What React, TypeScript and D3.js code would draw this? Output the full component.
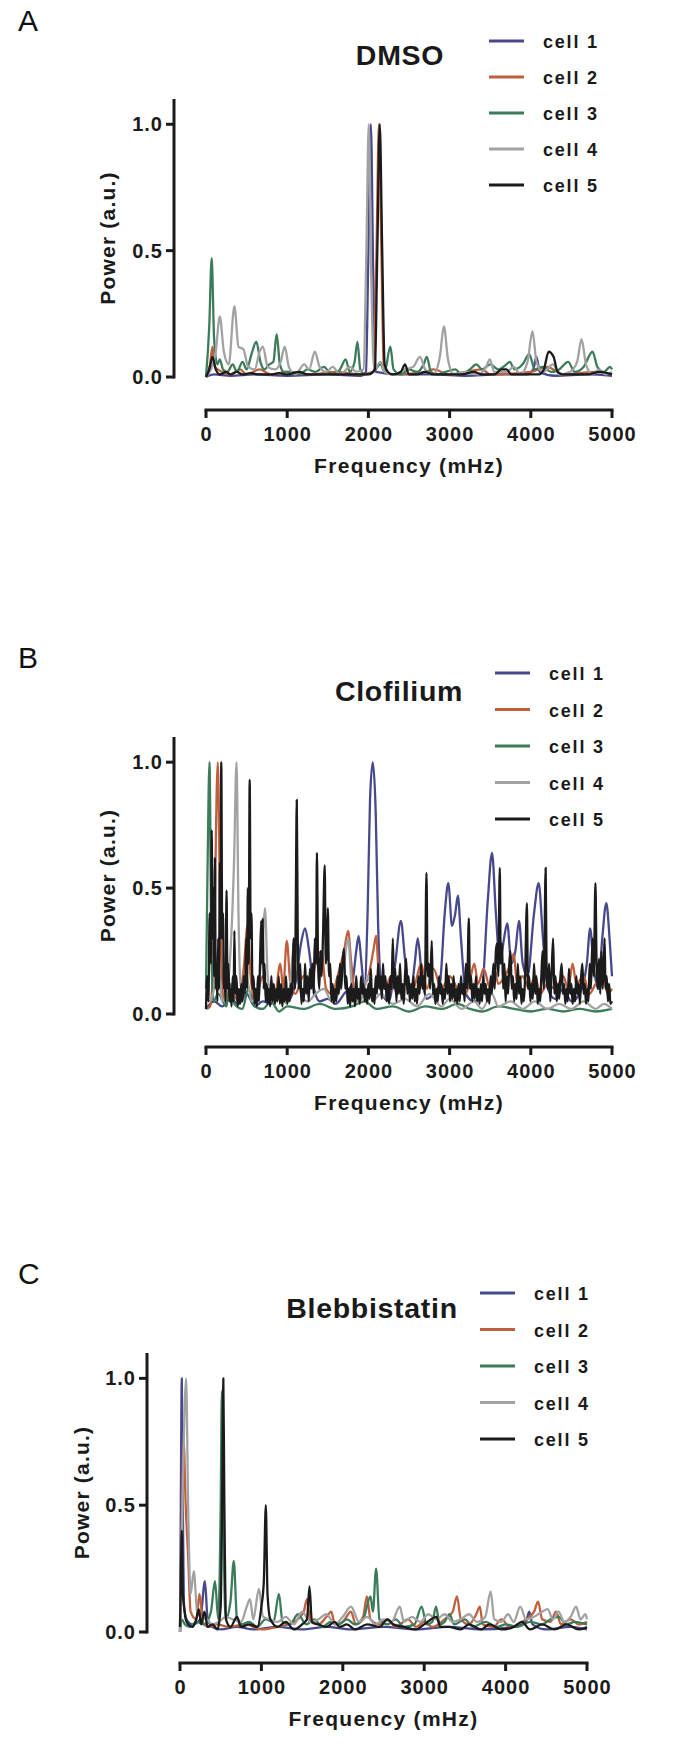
import React from "react";
import * as d3 from "d3";

type Pt = [number, number];

const xTicks = [0, 1000, 2000, 3000, 4000, 5000];
const yTicks = [0, 0.5, 1.0];
const cellNames = ["cell 1", "cell 2", "cell 3", "cell 4", "cell 5"];
const cellColors = ["#48488c", "#bf5f3d", "#3c7c5a", "#a2a2a2", "#1b1b1b"];
const panelLabels = ["A", "B", "C"];
const panelTitles = ["DMSO", "Clofilium", "Blebbistatin"];

// ---------- Panel A: DMSO ----------
const dmsoCell1: Pt[] = [[0,0],[100,0.01],[300,0.005],[600,0.01],[1000,0.005],[1500,0.01],[1900,0.005],[1970,0.02],[2000,0.5],[2030,1.0],[2060,0.4],[2090,0.02],[2400,0.01],[2800,0.01],[3200,0.005],[3600,0.01],[3950,0.01],[4030,0.03],[4070,0.08],[4110,0.02],[4300,0.005],[4700,0.01],[5000,0.005]];
const dmsoCell2: Pt[] = [[0,0],[50,0.05],[80,0.12],[110,0.04],[200,0.02],[300,0.01],[420,0.03],[500,0.01],[660,0.03],[800,0.01],[1000,0.02],[1300,0.01],[1600,0.02],[1900,0.01],[2060,0.02],[2100,0.5],[2130,1.0],[2160,0.5],[2190,0.03],[2300,0.01],[2700,0.02],[2800,0.03],[3000,0.01],[3400,0.03],[3500,0.01],[4000,0.02],[4200,0.04],[4400,0.01],[4800,0.02],[5000,0.01]];
const dmsoCell3: Pt[] = [[0,0],[40,0.2],[70,0.47],[100,0.15],[140,0.05],[170,0.07],[210,0.03],[260,0.02],[330,0.05],[380,0.02],[450,0.06],[500,0.03],[560,0.09],[620,0.14],[670,0.06],[720,0.03],[780,0.05],[830,0.06],[870,0.17],[910,0.05],[960,0.02],[1050,0.02],[1150,0.01],[1250,0.03],[1350,0.02],[1450,0.04],[1550,0.01],[1650,0.03],[1720,0.07],[1770,0.02],[1830,0.06],[1865,0.14],[1900,0.03],[1960,0.01],[2060,0.02],[2150,0.05],[2200,0.02],[2270,0.12],[2310,0.03],[2400,0.01],[2500,0.03],[2600,0.02],[2680,0.05],[2720,0.08],[2770,0.02],[2850,0.01],[2950,0.02],[3070,0.03],[3150,0.01],[3250,0.03],[3330,0.05],[3400,0.03],[3500,0.05],[3600,0.03],[3700,0.05],[3740,0.06],[3800,0.03],[3900,0.05],[3980,0.09],[4050,0.03],[4150,0.04],[4250,0.02],[4350,0.03],[4460,0.06],[4540,0.02],[4650,0.04],[4760,0.1],[4820,0.04],[4900,0.02],[4975,0.04],[5000,0.03]];
const dmsoCell4: Pt[] = [[0,0],[60,0.03],[120,0.1],[170,0.24],[220,0.1],[280,0.05],[350,0.28],[400,0.12],[460,0.11],[520,0.04],[600,0.03],[660,0.1],[700,0.12],[760,0.04],[850,0.03],[920,0.06],[970,0.12],[1020,0.04],[1100,0.01],[1210,0.05],[1270,0.03],[1340,0.1],[1400,0.04],[1480,0.02],[1560,0.04],[1650,0.01],[1775,0.04],[1850,0.02],[1940,0.03],[1975,0.5],[2005,1.0],[2035,0.4],[2070,0.03],[2150,0.06],[2200,0.02],[2300,0.01],[2450,0.03],[2550,0.04],[2635,0.08],[2700,0.03],[2800,0.01],[2880,0.08],[2930,0.2],[2980,0.07],[3050,0.01],[3200,0.02],[3350,0.01],[3450,0.04],[3495,0.07],[3550,0.02],[3700,0.02],[3790,0.04],[3870,0.01],[3960,0.06],[4020,0.18],[4070,0.06],[4150,0.02],[4275,0.05],[4350,0.01],[4480,0.02],[4570,0.06],[4625,0.15],[4680,0.05],[4760,0.01],[4840,0.03],[4920,0.01],[5000,0.02]];
const dmsoCell5: Pt[] = [[0,0],[40,0.03],[80,0.08],[120,0.03],[170,0.01],[250,0.02],[300,0.01],[380,0.02],[450,0.01],[550,0.015],[650,0.01],[800,0.01],[900,0.015],[1000,0.01],[1150,0.02],[1250,0.01],[1400,0.01],[1550,0.01],[1700,0.01],[1850,0.01],[2000,0.01],[2080,0.03],[2110,0.5],[2140,1.0],[2170,0.5],[2200,0.05],[2240,0.02],[2300,0.01],[2400,0.02],[2450,0.05],[2500,0.01],[2600,0.01],[2700,0.02],[2800,0.01],[2900,0.01],[3000,0.01],[3150,0.01],[3300,0.02],[3400,0.01],[3550,0.01],[3640,0.03],[3700,0.03],[3760,0.01],[3900,0.01],[4000,0.01],[4100,0.01],[4160,0.03],[4220,0.1],[4280,0.08],[4330,0.02],[4400,0.01],[4550,0.01],[4700,0.01],[4850,0.02],[5000,0.01]];

// ---------- Panel B: Clofilium ----------
const clofCell1: Pt[] = [[0,0.02],[100,0.05],[200,0.03],[300,0.06],[400,0.04],[500,0.08],[600,0.03],[700,0.05],[800,0.04],[900,0.08],[1000,0.05],[1100,0.12],[1170,0.28],[1220,0.34],[1270,0.25],[1330,0.1],[1400,0.05],[1500,0.06],[1600,0.04],[1700,0.08],[1800,0.12],[1850,0.25],[1880,0.31],[1910,0.22],[1950,0.1],[1990,0.4],[2020,0.85],[2054,1.0],[2090,0.8],[2120,0.35],[2170,0.08],[2250,0.05],[2330,0.2],[2400,0.37],[2450,0.22],[2520,0.08],[2570,0.2],[2608,0.3],[2650,0.18],[2720,0.06],[2800,0.08],[2880,0.12],[2940,0.4],[2984,0.52],[3030,0.35],[3070,0.4],[3102,0.47],[3140,0.3],[3200,0.08],[3300,0.05],[3400,0.1],[3470,0.45],[3522,0.64],[3570,0.4],[3620,0.2],[3670,0.3],[3710,0.36],[3760,0.2],[3810,0.25],[3855,0.37],[3900,0.2],[3960,0.15],[4040,0.4],[4097,0.52],[4150,0.3],[4210,0.1],[4300,0.06],[4400,0.1],[4500,0.05],[4600,0.08],[4690,0.2],[4731,0.34],[4770,0.2],[4830,0.1],[4880,0.3],[4930,0.44],[4970,0.3],[5000,0.15]];
const clofCell2: Pt[] = [[0,0.02],[50,0.03],[100,0.3],[145,1.0],[175,0.4],[220,0.05],[300,0.1],[400,0.05],[470,0.2],[510,0.35],[550,0.15],[600,0.05],[700,0.15],[760,0.08],[840,0.05],[915,0.2],[950,0.1],[995,0.29],[1040,0.12],[1100,0.08],[1200,0.15],[1280,0.1],[1350,0.2],[1420,0.25],[1480,0.1],[1550,0.08],[1620,0.15],[1700,0.25],[1750,0.33],[1790,0.2],[1850,0.05],[1920,0.1],[2000,0.15],[2060,0.25],[2095,0.31],[2130,0.15],[2200,0.1],[2280,0.15],[2350,0.08],[2450,0.12],[2550,0.1],[2650,0.2],[2720,0.1],[2800,0.18],[2900,0.1],[3000,0.15],[3100,0.1],[3200,0.08],[3260,0.15],[3305,0.2],[3350,0.12],[3420,0.18],[3500,0.1],[3550,0.18],[3600,0.12],[3680,0.15],[3750,0.2],[3790,0.24],[3830,0.12],[3900,0.15],[3980,0.1],[4050,0.15],[4120,0.08],[4200,0.12],[4300,0.1],[4400,0.15],[4460,0.1],[4515,0.2],[4560,0.12],[4650,0.15],[4720,0.08],[4800,0.12],[4880,0.15],[4950,0.08],[5000,0.1]];
const clofCell3: Pt[] = [[0,0.1],[20,0.6],[43,1.0],[65,0.3],[90,0.05],[150,0.08],[250,0.03],[300,0.12],[350,0.04],[450,0.02],[520,0.1],[600,0.03],[700,0.02],[800,0.05],[900,0.01],[1000,0.03],[1200,0.02],[1400,0.04],[1600,0.02],[1800,0.03],[1950,0.05],[2100,0.02],[2300,0.03],[2500,0.01],[2700,0.03],[2900,0.02],[3100,0.04],[3250,0.02],[3400,0.01],[3600,0.03],[3800,0.02],[4000,0.01],[4200,0.02],[4400,0.01],[4600,0.02],[4800,0.01],[5000,0.02]];
const clofCell4: Pt[] = [[0,0.08],[40,0.05],[100,0.1],[150,0.2],[200,0.05],[260,0.1],[310,0.3],[345,0.6],[376,1.0],[400,0.4],[430,0.1],[500,0.15],[560,0.05],[640,0.1],[700,0.3],[726,0.42],[760,0.15],[820,0.05],[900,0.08],[1000,0.04],[1100,0.3],[1150,0.1],[1250,0.05],[1350,0.08],[1450,0.1],[1550,0.05],[1650,0.1],[1700,0.2],[1750,0.3],[1800,0.1],[1900,0.05],[2000,0.15],[2050,0.05],[2150,0.08],[2300,0.04],[2450,0.06],[2600,0.03],[2750,0.08],[2900,0.03],[3000,0.06],[3150,0.02],[3300,0.05],[3400,0.02],[3520,0.08],[3600,0.03],[3750,0.05],[3900,0.02],[4050,0.05],[4200,0.02],[4350,0.04],[4500,0.02],[4650,0.05],[4800,0.02],[4900,0.04],[5000,0.02]];
const clofCell5: Pt[] = [[0,0.02],[15,0.15],[30,0.05],[45,0.4],[60,0.2],[70,0.73],[80,0.3],[90,0.5],[100,0.15],[110,0.62],[120,0.1],[130,0.2],[140,0.05],[150,0.3],[160,0.1],[170,0.6],[180,0.3],[188,1.0],[200,0.3],[210,0.4],[220,0.1],[230,0.15],[240,0.05],[253,0.49],[265,0.1],[275,0.2],[290,0.05],[300,0.1],[315,0.03],[330,0.15],[340,0.05],[350,0.33],[360,0.08],[375,0.15],[390,0.03],[405,0.1],[420,0.04],[435,0.12],[450,0.05],[465,0.15],[480,0.08],[495,0.3],[505,0.1],[515,0.5],[525,0.2],[538,0.93],[550,0.3],[560,0.4],[572,0.1],[585,0.15],[600,0.04],[612,0.1],[625,0.03],[640,0.15],[652,0.05],[665,0.2],[680,0.37],[690,0.2],[700,0.38],[710,0.1],[722,0.2],[735,0.05],[748,0.12],[760,0.04],[775,0.1],[790,0.03],[805,0.15],[820,0.05],[835,0.12],[850,0.04],[865,0.1],[880,0.05],[895,0.15],[910,0.04],[925,0.12],[940,0.03],[955,0.1],[970,0.05],[985,0.15],[1000,0.04],[1015,0.1],[1030,0.05],[1045,0.12],[1060,0.08],[1080,0.3],[1095,0.1],[1105,0.4],[1118,0.85],[1130,0.3],[1145,0.1],[1160,0.2],[1175,0.04],[1190,0.1],[1205,0.05],[1220,0.2],[1235,0.08],[1250,0.15],[1265,0.05],[1280,0.18],[1295,0.1],[1310,0.2],[1325,0.08],[1340,0.3],[1355,0.2],[1366,0.64],[1380,0.2],[1395,0.1],[1410,0.25],[1425,0.15],[1440,0.3],[1462,0.59],[1475,0.2],[1490,0.25],[1500,0.42],[1515,0.15],[1530,0.2],[1545,0.05],[1560,0.12],[1575,0.04],[1590,0.1],[1605,0.05],[1620,0.15],[1635,0.08],[1650,0.2],[1665,0.1],[1680,0.2],[1700,0.26],[1715,0.1],[1730,0.15],[1745,0.04],[1760,0.1],[1775,0.03],[1790,0.12],[1805,0.05],[1820,0.1],[1835,0.03],[1850,0.15],[1865,0.06],[1880,0.1],[1895,0.04],[1910,0.15],[1925,0.08],[1940,0.12],[1955,0.05],[1970,0.1],[1985,0.04],[2000,0.12],[2015,0.06],[2030,0.18],[2045,0.05],[2060,0.1],[2075,0.04],[2090,0.15],[2105,0.08],[2120,0.2],[2135,0.1],[2150,0.15],[2165,0.06],[2180,0.2],[2195,0.1],[2210,0.15],[2225,0.05],[2240,0.12],[2255,0.04],[2270,0.15],[2285,0.1],[2301,0.3],[2315,0.1],[2330,0.18],[2345,0.05],[2360,0.15],[2375,0.08],[2390,0.2],[2405,0.06],[2420,0.12],[2435,0.04],[2450,0.15],[2465,0.22],[2480,0.08],[2495,0.15],[2510,0.05],[2525,0.12],[2540,0.06],[2555,0.15],[2570,0.05],[2585,0.1],[2600,0.04],[2615,0.15],[2630,0.08],[2650,0.2],[2665,0.1],[2680,0.15],[2695,0.08],[2715,0.56],[2730,0.15],[2745,0.2],[2760,0.1],[2780,0.29],[2795,0.08],[2810,0.12],[2825,0.04],[2840,0.1],[2855,0.05],[2870,0.15],[2885,0.08],[2900,0.12],[2915,0.04],[2930,0.1],[2945,0.06],[2960,0.2],[2975,0.08],[2990,0.15],[3005,0.05],[3020,0.12],[3035,0.06],[3050,0.15],[3065,0.05],[3080,0.1],[3095,0.04],[3110,0.12],[3125,0.05],[3140,0.15],[3155,0.08],[3170,0.12],[3185,0.05],[3200,0.2],[3215,0.1],[3237,0.38],[3250,0.1],[3265,0.15],[3280,0.05],[3295,0.12],[3310,0.06],[3325,0.15],[3340,0.05],[3355,0.1],[3370,0.04],[3385,0.12],[3400,0.05],[3415,0.15],[3430,0.08],[3445,0.12],[3460,0.05],[3475,0.1],[3490,0.04],[3505,0.15],[3520,0.08],[3540,0.2],[3555,0.1],[3570,0.25],[3585,0.28],[3600,0.15],[3618,0.58],[3630,0.2],[3645,0.28],[3660,0.1],[3675,0.2],[3690,0.05],[3705,0.15],[3720,0.08],[3735,0.2],[3750,0.25],[3765,0.1],[3780,0.15],[3795,0.05],[3810,0.12],[3825,0.06],[3840,0.2],[3855,0.08],[3870,0.15],[3885,0.04],[3900,0.1],[3915,0.05],[3930,0.15],[3952,0.44],[3965,0.1],[3980,0.15],[3995,0.05],[4010,0.12],[4025,0.06],[4040,0.2],[4055,0.08],[4070,0.15],[4085,0.04],[4100,0.1],[4115,0.05],[4130,0.15],[4145,0.25],[4160,0.1],[4183,0.58],[4195,0.15],[4210,0.1],[4225,0.2],[4240,0.05],[4255,0.15],[4275,0.3],[4290,0.08],[4305,0.15],[4320,0.05],[4335,0.12],[4350,0.06],[4365,0.15],[4380,0.2],[4395,0.08],[4410,0.12],[4425,0.04],[4440,0.1],[4455,0.05],[4470,0.18],[4485,0.08],[4500,0.12],[4515,0.04],[4530,0.1],[4545,0.05],[4560,0.15],[4575,0.08],[4590,0.12],[4605,0.04],[4620,0.15],[4635,0.2],[4650,0.08],[4665,0.12],[4680,0.04],[4695,0.1],[4710,0.05],[4725,0.2],[4740,0.1],[4760,0.3],[4775,0.15],[4796,0.52],[4810,0.2],[4825,0.1],[4840,0.22],[4855,0.08],[4870,0.25],[4885,0.1],[4900,0.22],[4909,0.3],[4920,0.1],[4935,0.15],[4950,0.05],[4965,0.12],[4980,0.04],[5000,0.05]];

// ---------- Panel C: Blebbistatin ----------
const blebCell1: Pt[] = [[0,0],[10,0.5],[22,1.0],[35,0.5],[50,0.1],[80,0.05],[150,0.03],[250,0.05],[306,0.2],[340,0.05],[400,0.02],[500,0.01],[700,0.02],[900,0.01],[1200,0.02],[1500,0.01],[1800,0.02],[2100,0.01],[2500,0.02],[2900,0.01],[3300,0.02],[3700,0.01],[4100,0.02],[4250,0.04],[4290,0.08],[4330,0.03],[4500,0.01],[4800,0.02],[5000,0.01]];
const blebCell2: Pt[] = [[0,0],[20,0.4],[45,0.75],[70,0.5],[100,0.3],[130,0.08],[200,0.05],[240,0.15],[280,0.04],[350,0.02],[450,0.03],[600,0.02],[800,0.03],[1000,0.01],[1200,0.02],[1400,0.04],[1520,0.08],[1560,0.13],[1600,0.04],[1700,0.03],[1800,0.06],[1860,0.08],[1900,0.03],[2000,0.04],[2100,0.08],[2160,0.03],[2250,0.06],[2296,0.14],[2340,0.05],[2450,0.03],[2550,0.05],[2650,0.02],[2800,0.05],[2900,0.02],[3000,0.04],[3100,0.02],[3250,0.05],[3350,0.08],[3403,0.14],[3450,0.05],[3550,0.03],[3640,0.07],[3683,0.1],[3720,0.03],[3850,0.02],[3950,0.05],[4050,0.02],[4200,0.04],[4350,0.08],[4398,0.12],[4450,0.05],[4550,0.04],[4620,0.08],[4680,0.03],[4800,0.05],[4900,0.03],[5000,0.04]];
const blebCell3: Pt[] = [[0,0],[20,0.05],[60,0.03],[120,0.02],[200,0.04],[300,0.03],[380,0.08],[430,0.2],[470,0.05],[500,0.5],[515,0.95],[535,0.4],[560,0.05],[620,0.12],[661,0.28],[700,0.05],[760,0.03],[850,0.04],[950,0.02],[1050,0.05],[1150,0.04],[1215,0.15],[1260,0.04],[1350,0.03],[1450,0.07],[1550,0.03],[1650,0.05],[1750,0.02],[1850,0.04],[1950,0.03],[2050,0.05],[2150,0.03],[2250,0.05],[2340,0.14],[2370,0.08],[2409,0.25],[2450,0.05],[2550,0.03],[2650,0.05],[2750,0.02],[2880,0.03],[2968,0.1],[3030,0.03],[3100,0.04],[3145,0.1],[3190,0.03],[3250,0.04],[3310,0.07],[3370,0.03],[3500,0.05],[3600,0.02],[3750,0.04],[3900,0.02],[4000,0.03],[4150,0.02],[4300,0.04],[4450,0.03],[4550,0.05],[4650,0.06],[4750,0.03],[4850,0.04],[5000,0.03]];
const blebCell4: Pt[] = [[0,0],[30,0.5],[75,1.0],[100,0.5],[130,0.15],[170,0.24],[210,0.08],[260,0.06],[330,0.05],[400,0.03],[480,0.04],[560,0.06],[650,0.05],[750,0.04],[820,0.1],[860,0.13],[900,0.05],[970,0.17],[1020,0.06],[1100,0.05],[1200,0.04],[1300,0.06],[1400,0.03],[1500,0.08],[1600,0.04],[1700,0.05],[1800,0.07],[1900,0.03],[2000,0.06],[2100,0.1],[2200,0.04],[2300,0.06],[2400,0.03],[2500,0.05],[2600,0.04],[2700,0.1],[2750,0.04],[2850,0.06],[2950,0.04],[3050,0.07],[3150,0.05],[3250,0.07],[3350,0.04],[3450,0.05],[3550,0.07],[3650,0.04],[3750,0.06],[3817,0.16],[3860,0.05],[3950,0.04],[4030,0.07],[4100,0.04],[4180,0.1],[4250,0.05],[4350,0.06],[4450,0.08],[4516,0.09],[4580,0.05],[4650,0.08],[4720,0.04],[4800,0.06],[4866,0.1],[4920,0.05],[4980,0.07],[5000,0.05]];
const blebCell5: Pt[] = [[0,0.02],[10,0.2],[22,0.4],[35,0.15],[50,0.1],[70,0.05],[100,0.03],[150,0.02],[200,0.05],[230,0.09],[260,0.03],[300,0.08],[340,0.02],[400,0.03],[460,0.01],[500,0.1],[520,0.6],[532,1.0],[545,0.5],[565,0.05],[620,0.02],[700,0.06],[750,0.02],[850,0.03],[950,0.02],[1000,0.1],[1030,0.2],[1054,0.5],[1075,0.15],[1110,0.05],[1200,0.02],[1300,0.04],[1400,0.01],[1500,0.03],[1560,0.05],[1591,0.18],[1620,0.04],[1700,0.03],[1800,0.02],[1900,0.04],[1960,0.02],[2050,0.03],[2150,0.01],[2300,0.03],[2450,0.02],[2550,0.05],[2620,0.03],[2750,0.02],[2900,0.01],[3000,0.03],[3150,0.06],[3200,0.02],[3300,0.02],[3450,0.01],[3550,0.03],[3700,0.01],[3800,0.03],[3950,0.01],[4100,0.02],[4200,0.04],[4300,0.01],[4450,0.03],[4600,0.01],[4750,0.03],[4900,0.01],[5000,0.02]];

const dmsoSeries = [dmsoCell1, dmsoCell2, dmsoCell3, dmsoCell4, dmsoCell5];
const clofSeries = [clofCell1, clofCell2, clofCell3, clofCell4, clofCell5];
const blebSeries = [blebCell1, blebCell2, blebCell3, blebCell4, blebCell5];

const FONT = "'Liberation Sans', Arial, Helvetica, sans-serif";

interface Layout {
  axisX: number;
  yBottom: number;
  yTop: number;
  xAxisY: number;
  xLeft: number;
  xRight: number;
  legendLineX: number;
  legendTextX: number;
  legendY: number;
  legendStep: number;
  titleX: number;
  titleY: number;
  labelY: number;
  yLabelX: number;
}

const layouts: Layout[] = [
  { axisX: 174, yBottom: 377, yTop: 99, xAxisY: 410, xLeft: 206, xRight: 612, legendLineX: 489, legendTextX: 543, legendY: 41, legendStep: 36, titleX: 400, titleY: 65, labelY: 31, yLabelX: 108 },
  { axisX: 174, yBottom: 1014, yTop: 737, xAxisY: 1047, xLeft: 206, xRight: 612, legendLineX: 495, legendTextX: 549, legendY: 673, legendStep: 36.5, titleX: 399, titleY: 701, labelY: 668, yLabelX: 108 },
  { axisX: 147, yBottom: 1632, yTop: 1353, xAxisY: 1663, xLeft: 180, xRight: 587, legendLineX: 480, legendTextX: 534, legendY: 1293, legendStep: 36.5, titleX: 372, titleY: 1318, labelY: 1284, yLabelX: 82 },
];

function Panel({ idx, series }: { idx: number; series: Pt[][] }) {
  const L = layouts[idx];
  const x = d3.scaleLinear().domain([0, 5000]).range([L.xLeft, L.xRight]);
  const y = d3.scaleLinear().domain([0, 1.1]).range([L.yBottom, L.yTop]);
  const line = d3
    .line<Pt>()
    .x((d) => x(d[0]))
    .y((d) => y(d[1]))
    .curve(d3.curveMonotoneX);
  const fmt = d3.format(".1f");
  const yMid = (L.yBottom + L.yTop) / 2;
  const xMid = (L.xLeft + L.xRight) / 2;
  return (
    <g>
      <text x={18} y={L.labelY} fontSize={30} fontFamily={FONT} fill="#111">
        {panelLabels[idx]}
      </text>
      <text x={L.titleX} y={L.titleY} fontSize={28.5} fontWeight="bold" letterSpacing={0.7} textAnchor="middle" fontFamily={FONT} fill="#1a1a1a">
        {panelTitles[idx]}
      </text>
      {cellNames.map((n, i) => (
        <g key={n}>
          <line x1={L.legendLineX} x2={L.legendLineX + 35} y1={L.legendY + i * L.legendStep} y2={L.legendY + i * L.legendStep} stroke={cellColors[i]} strokeWidth={3} />
          <text x={L.legendTextX} y={L.legendY + i * L.legendStep + 7} fontSize={18} fontWeight="bold" letterSpacing={1.8} fontFamily={FONT} fill="#1a1a1a">
            {n}
          </text>
        </g>
      ))}
      <g fill="none" strokeWidth={2.3} strokeLinejoin="round">
        {series.map((s, i) => (
          <path key={i} d={line(s) || ""} stroke={cellColors[i]} />
        ))}
      </g>
      <line x1={L.axisX} x2={L.axisX} y1={y(1.1)} y2={y(0) + 1.5} stroke="#1a1a1a" strokeWidth={3} />
      {yTicks.map((t) => (
        <g key={t}>
          <line x1={L.axisX - 8} x2={L.axisX} y1={y(t)} y2={y(t)} stroke="#1a1a1a" strokeWidth={3} />
          <text x={L.axisX - 11} y={y(t) + 7} textAnchor="end" fontSize={20} fontWeight="bold" letterSpacing={1} fontFamily={FONT} fill="#1a1a1a">
            {fmt(t)}
          </text>
        </g>
      ))}
      <text transform={`translate(${L.yLabelX},${yMid}) rotate(-90)`} dy="0.35em" textAnchor="middle" fontSize={21} fontWeight="bold" letterSpacing={1.2} fontFamily={FONT} fill="#1a1a1a">
        Power (a.u.)
      </text>
      <line x1={L.xLeft - 1.5} x2={L.xRight + 1.5} y1={L.xAxisY} y2={L.xAxisY} stroke="#1a1a1a" strokeWidth={3} />
      {xTicks.map((t) => (
        <g key={t}>
          <line x1={x(t)} x2={x(t)} y1={L.xAxisY} y2={L.xAxisY + 8} stroke="#1a1a1a" strokeWidth={3} />
          <text x={x(t) + 0.5} y={L.xAxisY + 31} textAnchor="middle" fontSize={20} fontWeight="bold" letterSpacing={1} fontFamily={FONT} fill="#1a1a1a">
            {t}
          </text>
        </g>
      ))}
      <text x={xMid} y={L.xAxisY + 63} textAnchor="middle" fontSize={21} fontWeight="bold" letterSpacing={1.3} fontFamily={FONT} fill="#1a1a1a">
        Frequency (mHz)
      </text>
    </g>
  );
}

export default function App() {
  return (
    <svg width={685} height={1755} style={{ position: "absolute", left: 0, top: 0, background: "#fff" }}>
      <rect width={685} height={1755} fill="#fff" />
      <Panel idx={0} series={dmsoSeries} />
      <Panel idx={1} series={clofSeries} />
      <Panel idx={2} series={blebSeries} />
    </svg>
  );
}
